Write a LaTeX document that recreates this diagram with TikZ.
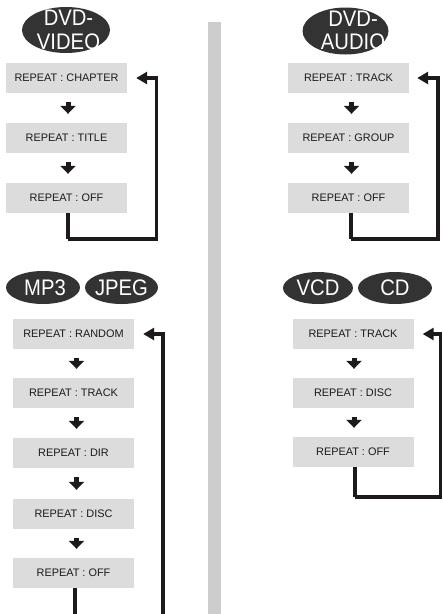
\documentclass[tikz,border=0pt]{standalone}
\usepackage{fontspec}
\setmainfont{Liberation Sans}
\usetikzlibrary{shapes.geometric,arrows.meta,calc}
\definecolor{boxgray}{HTML}{DCDCDC}
\definecolor{bargray}{HTML}{CCCCCC}
\definecolor{discgray}{HTML}{333333}
\definecolor{ink}{HTML}{1E1A1B}
\newcommand{\condtxt}[1]{\scalebox{0.9}[1]{#1}}
\tikzset{
  stepbox/.style={fill=boxgray, minimum width=121pt, minimum height=30pt, inner sep=0pt,
    font=\fontsize{10.9pt}{12pt}\selectfont, text=ink},
  disc/.style={ellipse, fill=discgray, inner sep=0pt},
  disctext/.style={text=white, align=center, inner sep=0pt,
    font=\fontsize{22.5pt}{23.5pt}\selectfont},
  nextarrow/.style={ink, line width=5pt, -{Triangle[width=15pt,length=8pt]}},
  looparrow/.style={ink, line width=3.2pt, -{Triangle[width=12pt,length=11pt]}},
  loopline/.style={ink, line width=3.2pt},
}
\begin{document}
\begin{tikzpicture}[x=1pt,y=-1pt]
\useasboundingbox (0,0) rectangle (443,614);
% separator bar
\fill[bargray] (208,22) rectangle (220.5,614);

% ---------- DVD-VIDEO ----------
\node[disc, minimum width=88pt, minimum height=46pt] (dvdv) at (66,30) {};
\node[disctext] (dvdvt) at (68.5,30) {\condtxt{DVD-}\\\condtxt{VIDEO}};
\node[stepbox] (v1) at (66.5,78) {REPEAT : CHAPTER};
\node[stepbox] (v2) at (66.5,138) {REPEAT : TITLE};
\node[stepbox] (v3) at (66.5,198) {REPEAT : OFF};
\draw[nextarrow] ([xshift=1.5pt,yshift=-9pt]v1.south) -- ([xshift=1.5pt,yshift=9pt]v2.north);
\draw[nextarrow] ([xshift=1.5pt,yshift=-9pt]v2.south) -- ([xshift=1.5pt,yshift=9pt]v3.north);
\coordinate (vb) at (68,239);
\coordinate (vr) at (156.5,239);
\draw[loopline] ([xshift=1.5pt]v3.south) -- (vb);
\draw[looparrow] (vb) -- (vr) |- ([xshift=9pt]v1.east);

% ---------- DVD-AUDIO ----------
\node[disc, minimum width=86pt, minimum height=47pt] (dvda) at (345.5,31) {};
\node[disctext] (dvdat) at (353,30.5) {\condtxt{DVD-}\\\condtxt{AUDIO}};
\node[stepbox] (a1) at (348.5,78) {REPEAT : TRACK};
\node[stepbox] (a2) at (348.5,138) {REPEAT : GROUP};
\node[stepbox] (a3) at (348.5,198) {REPEAT : OFF};
\draw[nextarrow] ([xshift=3pt,yshift=-9pt]a1.south) -- ([xshift=3pt,yshift=9pt]a2.north);
\draw[nextarrow] ([xshift=3pt,yshift=-9pt]a2.south) -- ([xshift=3pt,yshift=9pt]a3.north);
\coordinate (ab) at (351,239);
\coordinate (ar) at (438,239);
\draw[loopline] ([xshift=2.5pt]a3.south) -- (ab);
\draw[looparrow] (ab) -- (ar) |- ([xshift=8pt]a1.east);

% ---------- MP3 / JPEG ----------
\node[disc, minimum width=74pt, minimum height=33pt] (mp3) at (43,287.5) {};
\node[disctext] (mp3t) at (45,287.5) {\condtxt{MP3}};
\node[disc, minimum width=73pt, minimum height=33pt] (jpeg) at (121.5,287.5) {};
\node[disctext] (jpegt) at (121.5,287.5) {\condtxt{JPEG}};
\node[stepbox] (m1) at (73.5,334) {REPEAT : RANDOM};
\node[stepbox] (m2) at (73.5,393) {REPEAT : TRACK};
\node[stepbox] (m3) at (73.5,453) {REPEAT : DIR};
\node[stepbox] (m4) at (73.5,514) {REPEAT : DISC};
\node[stepbox] (m5) at (73.5,573) {REPEAT : OFF};
\draw[nextarrow] ([xshift=3pt,yshift=-9pt]m1.south) -- ([xshift=3pt,yshift=9pt]m2.north);
\draw[nextarrow] ([xshift=3pt,yshift=-9pt]m2.south) -- ([xshift=3pt,yshift=9pt]m3.north);
\draw[nextarrow] ([xshift=3pt,yshift=-9pt]m3.south) -- ([xshift=3pt,yshift=9pt]m4.north);
\draw[nextarrow] ([xshift=3pt,yshift=-9pt]m4.south) -- ([xshift=3pt,yshift=9pt]m5.north);
\coordinate (mb) at (75,616);
\coordinate (mr) at (163,616);
\draw[loopline] ([xshift=1.5pt]m5.south) -- (mb);
\draw[looparrow] (mr) |- ([xshift=9pt]m1.east);

% ---------- VCD / CD ----------
\node[disc, minimum width=70pt, minimum height=32pt] (vcd) at (318,288) {};
\node[disctext] (vcdt) at (318,288) {\condtxt{VCD}};
\node[disc, minimum width=74pt, minimum height=32pt] (cd) at (395,288) {};
\node[disctext] (cdt) at (395,288) {\condtxt{CD}};
\node[stepbox] (c1) at (353,334) {REPEAT : TRACK};
\node[stepbox] (c2) at (353,393) {REPEAT : DISC};
\node[stepbox] (c3) at (353,452) {REPEAT : OFF};
\draw[nextarrow] ([xshift=1pt,yshift=-9pt]c1.south) -- ([xshift=1pt,yshift=9pt]c2.north);
\draw[nextarrow] ([xshift=1pt,yshift=-9pt]c2.south) -- ([xshift=1pt,yshift=9pt]c3.north);
\coordinate (cb) at (355,497);
\coordinate (cr) at (440.5,497);
\draw[loopline] ([xshift=2pt]c3.south) -- (cb);
\draw[looparrow] (cb) -- (cr) |- ([xshift=9pt]c1.east);
\end{tikzpicture}
\end{document}
